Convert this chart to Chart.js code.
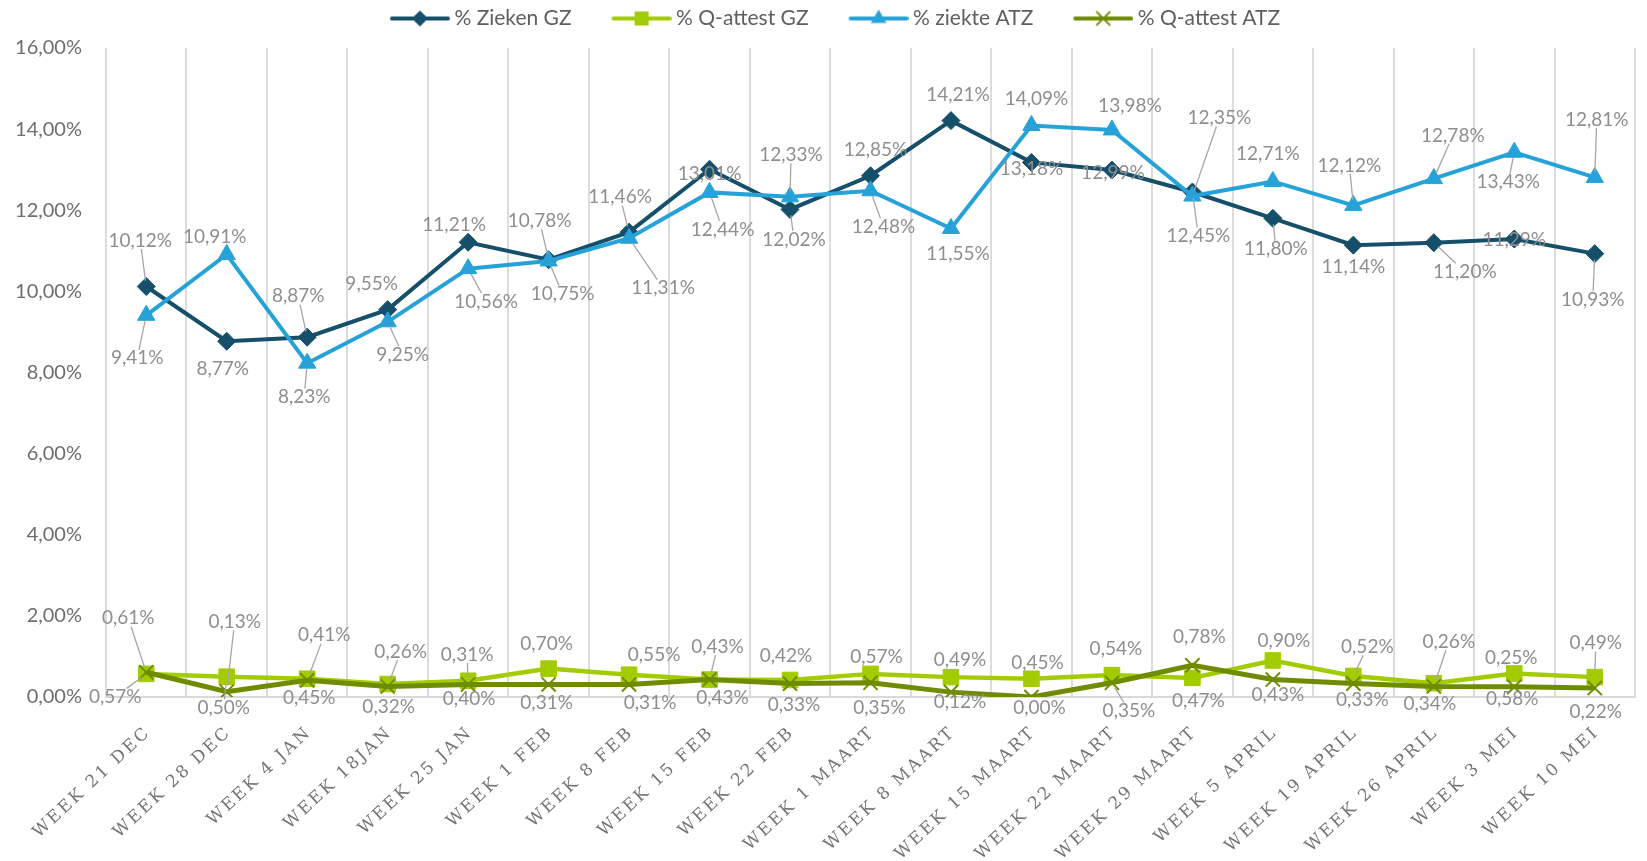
<!DOCTYPE html>
<html><head><meta charset="utf-8">
<script src="https://cdn.jsdelivr.net/npm/chart.js@4/dist/chart.umd.min.js"></script>
<style>html,body{margin:0;padding:0;background:#fff;}</style>
</head><body>
<canvas id="c" width="1647" height="861"></canvas>
<script>
const categories = ['WEEK 21 DEC','WEEK 28 DEC','WEEK 4 JAN','WEEK 18JAN','WEEK 25 JAN','WEEK 1 FEB','WEEK 8 FEB','WEEK 15 FEB','WEEK 22 FEB','WEEK 1 MAART','WEEK 8 MAART','WEEK 15 MAART','WEEK 22 MAART','WEEK 29 MAART','WEEK 5 APRIL','WEEK 19 APRIL','WEEK 26 APRIL','WEEK 3 MEI','WEEK 10 MEI'];
const ziekenGZ   = [10.12, 8.77, 8.87, 9.55, 11.21, 10.78, 11.46, 13.01, 12.02, 12.85, 14.21, 13.18, 12.99, 12.45, 11.80, 11.14, 11.20, 11.29, 10.93];
const qAttestGZ  = [0.57, 0.50, 0.45, 0.32, 0.40, 0.70, 0.55, 0.43, 0.42, 0.57, 0.49, 0.45, 0.54, 0.47, 0.90, 0.52, 0.34, 0.58, 0.49];
const ziekteATZ  = [9.41, 10.91, 8.23, 9.25, 10.56, 10.75, 11.31, 12.44, 12.33, 12.48, 11.55, 14.09, 13.98, 12.35, 12.71, 12.12, 12.78, 13.43, 12.81];
const qAttestATZ = [0.61, 0.13, 0.41, 0.26, 0.31, 0.31, 0.31, 0.43, 0.33, 0.35, 0.12, 0.00, 0.35, 0.78, 0.43, 0.33, 0.26, 0.25, 0.22];
const seriesNames = ['% Zieken GZ', '% Q-attest GZ', '% ziekte ATZ', '% Q-attest ATZ'];
const yMin = 0, yMax = 16, yStep = 2;

// label placement offsets (px) relative to each point: layout only
const labelOffsets = [
  [[-6,-46],[-4,28],[-9,-41],[-16,-26],[-14,-17],[-9,-39],[-9,-35],[0,5],[4,30],[5,-26],[7,-26],[0,6],[1,3],[6,44],[3,31],[0,22],[31,29],[0,1],[-2,46]],
  [[-31,23],[-3,31],[2,19],[1,23],[1,18],[-2,-25],[25,-20],[8,-33],[-4,-24],[6,-17],[9,-17],[6,-16],[4,-26],[6,23],[11,-20],[14,-29],[-4,21],[-2,25],[1,-34]],
  [[-9,43],[-12,-18],[-3,34],[15,33],[18,33],[14,33],[34,50],[13,37],[1,-42],[13,36],[7,25],[5,-27],[18,-24],[27,-78],[-5,-28],[-4,-40],[19,-43],[-6,30],[2,-58]],
  [[-18,-54],[8,-70],[17,-45],[13,-35],[-1,-30],[-2,18],[21,18],[13,18],[4,21],[9,25],[9,10],[8,11],[17,28],[7,-28],[5,15],[9,16],[15,-45],[-3,-29],[1,24]]
];

const colors = ['#154f69', '#a3cc00', '#27a2d8', '#6f8c00'];
const styles = ['rectRot', 'rect', 'triangle', 'crossRot'];
const radii = [9, 11, 10, 10];
const widths = [4, 4.5, 4, 5];

const fmt = v => v.toFixed(2).replace('.', ',') + '%';

function drawMarker(ctx, style, x, y, r, color) {
  ctx.save();
  ctx.fillStyle = color; ctx.strokeStyle = color;
  ctx.beginPath();
  if (style === 'rectRot') {
    ctx.moveTo(x, y - r); ctx.lineTo(x + r, y); ctx.lineTo(x, y + r); ctx.lineTo(x - r, y); ctx.closePath(); ctx.fill();
  } else if (style === 'rect') {
    const s = r * Math.SQRT1_2; ctx.rect(x - s, y - s, 2 * s, 2 * s); ctx.fill();
  } else if (style === 'triangle') {
    ctx.moveTo(x, y - r); ctx.lineTo(x + r * 0.866, y + r * 0.5); ctx.lineTo(x - r * 0.866, y + r * 0.5); ctx.closePath(); ctx.fill();
  } else {
    const s = r * Math.SQRT1_2; ctx.lineWidth = 2;
    ctx.moveTo(x - s, y - s); ctx.lineTo(x + s, y + s); ctx.moveTo(x + s, y - s); ctx.lineTo(x - s, y + s); ctx.stroke();
  }
  ctx.restore();
}

const iconPad = 32, iconLine = 54, iconExt = 6;
function legendIcon(i) {
  const c = document.createElement('canvas');
  c.width = iconPad + iconLine + 2 * iconExt; c.height = 22;
  const ctx = c.getContext('2d');
  const x0 = iconExt + iconPad + 2, x1 = c.width - 2;
  ctx.strokeStyle = colors[i]; ctx.lineWidth = 4; ctx.lineCap = 'round';
  ctx.beginPath(); ctx.moveTo(x0, 11); ctx.lineTo(x1, 11); ctx.stroke();
  drawMarker(ctx, styles[i], (x0 + x1) / 2, 11, radii[i] * 0.9, colors[i]);
  return c;
}
const icons = [0, 1, 2, 3].map(legendIcon);

const legendSpacer = {
  id: 'legendSpacer',
  beforeLayout(chart) {
    const lg = chart.legend;
    if (lg && !lg._spacerPatched) {
      const f = lg.fit.bind(lg);
      lg.fit = function () { f(); this.height += 9; };
      lg._spacerPatched = true;
    }
  }
};

const dataLabelPlugin = {
  id: 'dataLabels',
  afterDatasetsDraw(chart) {
    const ctx = chart.ctx;
    ctx.save();
    ctx.font = '19px Lato';
    ctx.textAlign = 'center';
    ctx.textBaseline = 'middle';
    chart.data.datasets.forEach((ds, di) => {
      const meta = chart.getDatasetMeta(di);
      meta.data.forEach((el, i) => {
        const off = labelOffsets[di][i];
        const txt = fmt(ds.data[i]);
        const lx = el.x + off[0], ly = el.y + off[1];
        const w = ctx.measureText(txt).width, h = 17;
        const vx = lx - el.x, vy = ly - el.y;
        const s = Math.min(vx ? (w / 2) / Math.abs(vx) : Infinity, vy ? (h / 2) / Math.abs(vy) : Infinity);
        if (s < 1) {
          const px = lx - vx * s, py = ly - vy * s;
          const d = Math.hypot(px - el.x, py - el.y);
          if (d > 21) {
            const ex = el.x + (px - el.x) * 6 / d, ey = el.y + (py - el.y) * 6 / d;
            ctx.strokeStyle = '#a6a6a6'; ctx.lineWidth = 1.3;
            ctx.beginPath(); ctx.moveTo(px, py); ctx.lineTo(ex, ey); ctx.stroke();
          }
        }
        ctx.fillStyle = '#8e8e8e';
        ctx.fillText(txt, lx, ly);
      });
    });
    ctx.restore();
  }
};

const xLabelPlugin = {
  id: 'xLabels',
  afterDraw(chart) {
    const ctx = chart.ctx, xs = chart.scales.x;
    ctx.save();
    ctx.font = '17px "DejaVu Serif"';
    ctx.fillStyle = '#747474';
    ctx.letterSpacing = '2.5px';
    ctx.textAlign = 'right';
    ctx.textBaseline = 'middle';
    categories.forEach((lab, i) => {
      const x = xs.getPixelForValue(i);
      ctx.save();
      ctx.translate(x + 2, xs.top + 33);
      ctx.rotate(-43 * Math.PI / 180);
      ctx.fillText(lab, 0, 0);
      ctx.restore();
    });
    ctx.restore();
  }
};

const seriesData = [ziekenGZ, qAttestGZ, ziekteATZ, qAttestATZ];
const datasets = seriesData.map((d, i) => ({
  label: seriesNames[i],
  data: d,
  borderColor: colors[i],
  backgroundColor: colors[i],
  borderWidth: widths[i],
  pointStyle: styles[i],
  pointRadius: radii[i],
  pointHoverRadius: radii[i],
  pointBorderWidth: i === 3 ? 2 : 1,
  pointBackgroundColor: colors[i],
  pointBorderColor: colors[i],
  tension: 0,
  order: 4 - i
}));

new Chart(document.getElementById('c'), {
  type: 'line',
  data: { labels: categories, datasets },
  options: {
    responsive: false,
    animation: false,
    devicePixelRatio: 1,
    layout: { padding: { top: 0, left: 0, right: 9, bottom: 0 } },
    plugins: {
      tooltip: { enabled: false },
      legend: {
        position: 'top',
        labels: {
          usePointStyle: true,
          pointStyleWidth: iconPad + iconLine,
          padding: 8,
          color: '#5f5f5f',
          font: { family: 'Lato', size: 21 },
          generateLabels: (chart) => chart.data.datasets.map((ds, i) => ({
            text: ds.label, pointStyle: icons[i], fillStyle: colors[i], strokeStyle: colors[i],
            lineWidth: 0, hidden: false, datasetIndex: i, fontColor: '#5f5f5f'
          }))
        }
      }
    },
    scales: {
      x: {
        offset: true,
        grid: { display: true, offset: true, color: '#dcdcdc', lineWidth: 2, drawTicks: false },
        border: { display: true, color: '#d9d9d9', width: 2 },
        ticks: { display: false },
        afterFit: (s) => { s.height = 164; }
      },
      y: {
        min: yMin, max: yMax,
        ticks: { stepSize: yStep, padding: 24, color: '#6e6e6e', font: { family: 'Lato', size: 20 }, callback: v => fmt(v) },
        grid: { display: false, drawTicks: false },
        border: { display: false },
        afterFit: (s) => { s.width = 106; }
      }
    }
  },
  plugins: [legendSpacer, dataLabelPlugin, xLabelPlugin]
});
</script>
</body></html>
